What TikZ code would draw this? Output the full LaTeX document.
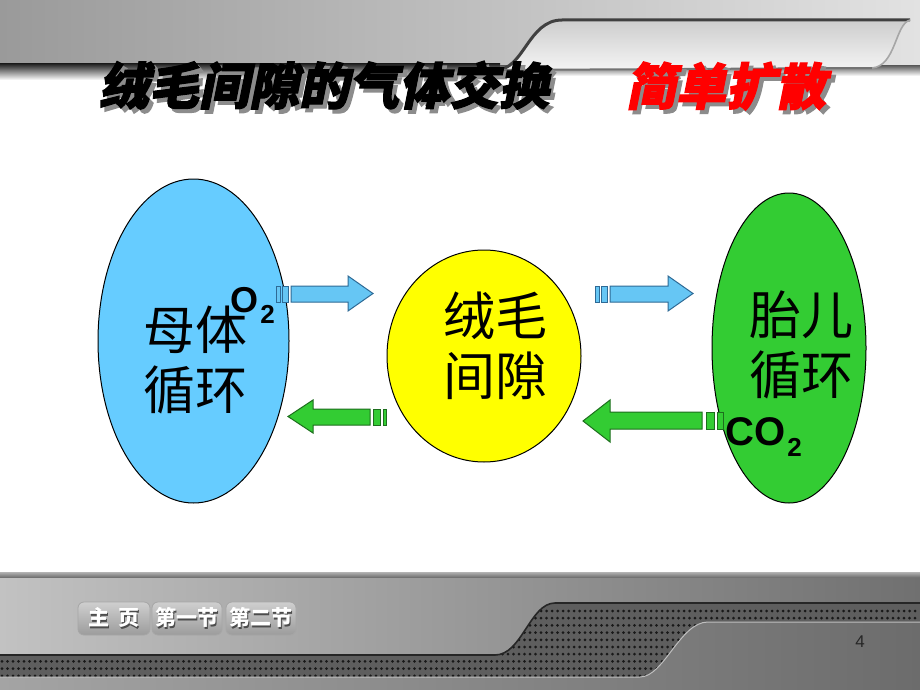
\documentclass[tikz,border=0pt]{standalone}
\usepackage{fontspec}
\setmainfont{Liberation Sans}
\newfontfamily\cjk{Noto Sans CJK SC}
\newfontfamily\cjktitle{Noto Sans CJK SC}[FakeSlant=0.2, BoldFeatures={FakeBold=2.5}]
\usetikzlibrary{shapes.geometric}
\definecolor{momblue}{HTML}{66CCFF}
\definecolor{villiyellow}{HTML}{FFFF00}
\definecolor{fetalgreen}{HTML}{33CC33}
\definecolor{arrblue}{HTML}{66C6F4}
\definecolor{arrblueedge}{HTML}{2E6A96}
\definecolor{arrgreen}{HTML}{33CC33}
\definecolor{arrgreenedge}{HTML}{1D6E1D}
\definecolor{titlered}{HTML}{FF0000}
\definecolor{bandL}{HTML}{9A9A9A}
\definecolor{bandR}{HTML}{E2E2E2}
\definecolor{tabtop}{HTML}{CDCDCD}
\definecolor{tabbot}{HTML}{F4F4F4}
\definecolor{panelL}{HTML}{C2C2C2}
\definecolor{panelM}{HTML}{DADADA}
\definecolor{panelR}{HTML}{707070}
\definecolor{perf}{HTML}{5E5E5E}
\definecolor{lowL}{HTML}{A4A4A4}
\definecolor{lowR}{HTML}{6C6C6C}
\definecolor{btntop}{HTML}{CFCFCF}
\definecolor{btnbot}{HTML}{9C9C9C}
\newcommand{\shadowed}[3]{\makebox[0pt][l]{\hspace{#2}\raisebox{-#2}{\color{#3}#1}}#1}
\tikzset{
  blob/.style={ellipse, draw=black, line width=0.5pt, inner sep=0},
  cjkbody/.style={font=\cjk\fontsize{26}{30}\selectfont, align=center, inner sep=0},
  chem/.style={font=\bfseries\fontsize{18}{18}\selectfont, anchor=base west, inner sep=0},
  bluearrow/.style={fill=arrblue, draw=arrblueedge, line width=0.5pt},
  greenarrow/.style={fill=arrgreen, draw=arrgreenedge, line width=0.5pt},
  titletext/.style={font=\cjktitle\bfseries\fontsize{25}{25}\selectfont, inner sep=0},
  btn/.style={draw=black!35, line width=0.4pt, rounded corners=3pt, top color=btntop, bottom color=btnbot, minimum height=16.5pt, inner sep=0, font=\cjk\bfseries\fontsize{10.5}{10.5}\selectfont, text=white}
}
\begin{document}
\begin{tikzpicture}[x=0.5pt,y=-0.5pt]
\useasboundingbox (0,0) rectangle (920,690);
\fill[white] (0,0) rectangle (920,690);
% ---------- top band ----------
\shade[left color=bandL, right color=bandR] (0,0) rectangle (920,70);
\shade[top color=black!85, bottom color=white] (0,64) rectangle (500,80);
\shade[top color=black!60, bottom color=white] (500,66) rectangle (920,76);
\shade[top color=tabtop, bottom color=tabbot]
  (496,70) .. controls (524,70) and (528,20) .. (562,20) -- (910,20)
  .. controls (895,24) and (896,66) .. (872,68) -- cycle;
\draw[black!75, line width=1.5pt] (496,70) .. controls (524,70) and (528,20) .. (562,20) -- (910,20);
\draw[black!35, line width=0.8pt] (910,20) .. controls (895,24) and (896,66) .. (872,68);
\draw[black!55, line width=1pt] (496,70) -- (872,68);
% ---------- bottom band ----------
\shade[top color=black!30, bottom color=black!60] (0,572) rectangle (920,578);
\shade[left color=panelL, middle color=panelM, right color=panelR]
  (0,578) -- (920,578) -- (920,603) -- (555,603) .. controls (530,603) and (522,655) .. (495,655) -- (0,655) -- cycle;
\shade[left color=lowL, right color=lowR]
  (0,677) -- (640,677) .. controls (664,677) and (680,622) .. (708,622) -- (920,622) -- (920,690) -- (0,690) -- cycle;
\fill[perf] (0,655) -- (495,655) .. controls (522,655) and (530,603) .. (555,603) -- (920,603) -- (920,622) -- (708,622) .. controls (680,622) and (664,677) .. (640,677) -- (0,677) -- cycle;
\begin{scope}
\clip (0,655) -- (495,655) .. controls (522,655) and (530,603) .. (555,603) -- (920,603) -- (920,622) -- (708,622) .. controls (680,622) and (664,677) .. (640,677) -- (0,677) -- cycle;
\foreach \yy in {611,618.2,...,677}
  \foreach \xx in {2,7.5,...,920}
    \fill[black!90] (\xx,\yy) circle (0.75pt);
\end{scope}
\draw[black!85, line width=0.8pt] (0,655) -- (495,655) .. controls (522,655) and (530,603) .. (555,603) -- (920,603);
\draw[black!25, line width=0.5pt] (0,677) -- (640,677) .. controls (664,677) and (680,622) .. (708,622) -- (920,622);
% buttons
\node[btn, minimum width=36pt] (home) at (114,618.5) {\shadowed{主\hspace{0.45em}页}{0.6pt}{black!70}};
\node[btn, minimum width=35pt] (sec1) at (187,618.5) {\shadowed{第一节}{0.6pt}{black!70}};
\node[btn, minimum width=35pt] (sec2) at (261,618.5) {\shadowed{第二节}{0.6pt}{black!70}};
\node[font=\fontsize{8.5}{8.5}\selectfont, text=black!85, inner sep=0] (page) at (860,642) {4};
% ---------- title ----------
\node[titletext] (title) at (324,88) {\shadowed{绒毛间隙的气体交换}{2pt}{black!45}};
\node[titletext, text=titlered] (method) at (726,88) {\shadowed{简单扩散}{2pt}{black!45}};
% ---------- circulations ----------
\node[blob, fill=momblue, minimum width=95.5pt, minimum height=162pt] (mom) at (193.5,341) {};
\node[blob, fill=villiyellow, minimum width=97pt, minimum height=106pt] (villi) at (484,356) {};
\node[blob, fill=fetalgreen, minimum width=77pt, minimum height=155pt] (fetal) at (789,348) {};
% arrows
\draw[bluearrow] (291,286) -- (348,286) -- (348,276) -- (373,293.5) -- (348,311) -- (348,302) -- (291,302) -- cycle;
\draw[bluearrow] (276,286) rectangle (280,302);
\draw[bluearrow] (282,286) rectangle (288,302);
\draw[bluearrow] (610,286) -- (668,286) -- (668,276) -- (693,293.5) -- (668,311) -- (668,302) -- (610,302) -- cycle;
\draw[bluearrow] (595,286) rectangle (599,302);
\draw[bluearrow] (601,286) rectangle (607,302);
\draw[greenarrow] (370,409) -- (313,409) -- (313,400) -- (288,416.5) -- (313,433) -- (313,425) -- (370,425) -- cycle;
\draw[greenarrow] (373,409) rectangle (380,425);
\draw[greenarrow] (383,409) rectangle (386,425);
\draw[greenarrow] (702,412) -- (610,412) -- (610,400) -- (583,421) -- (610,442) -- (610,429) -- (702,429) -- cycle;
\draw[greenarrow] (706,412) rectangle (714,429);
\draw[greenarrow] (717,412) rectangle (723,429);
% texts
\node[cjkbody] (momtxt) at (195,360) {母体\\循环};
\node[cjkbody] (villitxt) at (495,346) {绒毛\\间隙};
\node[cjkbody] (fetaltxt) at (801,345) {胎儿\\循环};
\node[chem] (otwo) at (230,312) {O\hspace{1pt}\raisebox{-5.5pt}{\fontsize{13}{13}\selectfont 2}};
\node[chem, font=\bfseries\fontsize{20}{20}\selectfont] (cotwo) at (725,445) {CO\hspace{1pt}\raisebox{-5.5pt}{\fontsize{13}{13}\selectfont 2}};
\end{tikzpicture}
\end{document}
